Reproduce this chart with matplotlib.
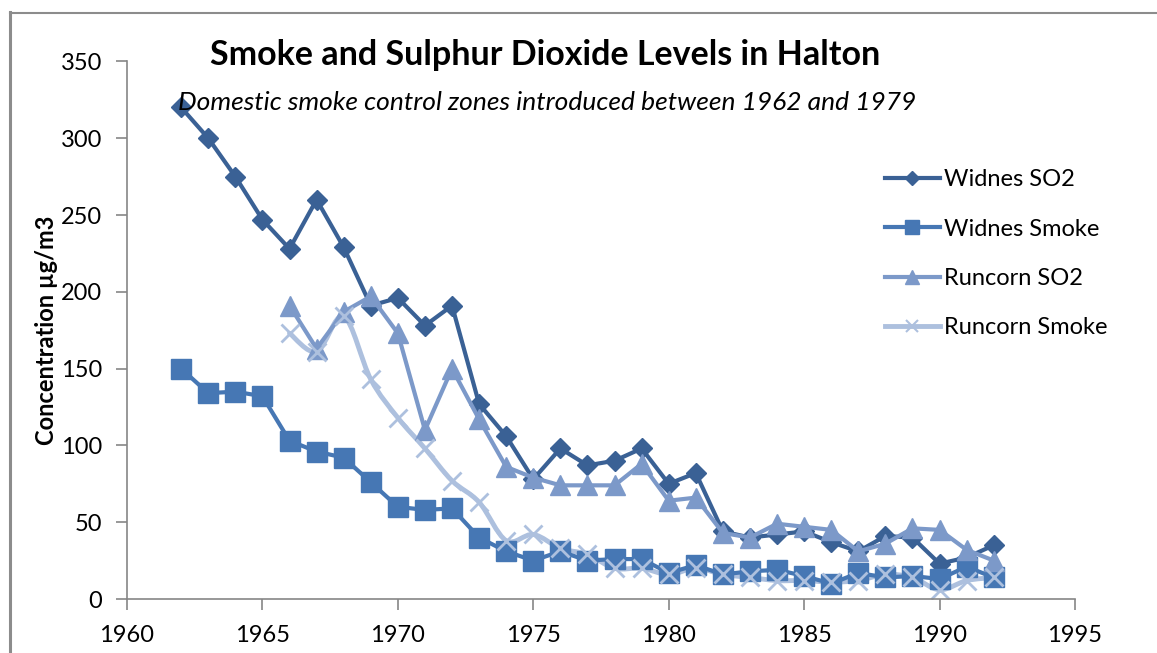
import numpy as np
import matplotlib
matplotlib.use('Agg')
import matplotlib.pyplot as plt
from matplotlib.path import Path
from matplotlib.patches import PathPatch
from matplotlib.lines import Line2D

plt.rcParams['font.family'] = ['Lato', 'DejaVu Sans']

# data
widnes_years = list(range(1962, 1993))
widnes_so2 = [320, 300, 275, 247, 228, 260, 229, 191, 196, 178, 191, 127, 106, 78,
              98, 87, 90, 98, 75, 82, 44, 40, 42, 44, 37, 31, 41, 40, 23, 27, 35]
widnes_smoke = [150, 134, 135, 132, 103, 96, 92, 76, 60, 58, 59, 40, 31, 25,
                31, 25, 26, 26, 17, 22, 16, 18, 19, 15, 10, 17, 14, 15, 13, 21, 14]

runcorn_years = list(range(1966, 1993))
runcorn_so2 = [191, 163, 187, 197, 173, 110, 150, 117, 86, 79, 74, 74, 74, 88,
               64, 66, 43, 40, 49, 47, 45, 31, 36, 46, 45, 32, 25]
runcorn_smoke = [173, 161, 184, 143, 118, 98, 77, 63, 38, 42, 33, 29, 20, 20,
                 16, 20, 16, 14, 12, 12, 11, 12, 16, 14, 6, 12, 14]

labels = ['Widnes SO2', 'Widnes Smoke', 'Runcorn SO2', 'Runcorn Smoke']
colors = ['#3a6195', '#4677b4', '#7c99c9', '#adc0de']

x_ticks = [1960, 1965, 1970, 1975, 1980, 1985, 1990, 1995]
y_ticks = [0, 50, 100, 150, 200, 250, 300, 350]


def smooth_path(xs, ys):
    # bezier segments through every point, like the spreadsheet "smoothed line"
    p = np.column_stack([xs, ys]).astype(float)
    pts = np.vstack([p[0], p, p[-1]])
    verts = [p[0]]
    codes = [Path.MOVETO]
    for i in range(1, len(pts) - 2):
        c1 = pts[i] + (pts[i + 1] - pts[i - 1]) / 6.0
        c2 = pts[i + 1] - (pts[i + 2] - pts[i]) / 6.0
        verts += [c1, c2, pts[i + 1]]
        codes += [Path.CURVE4] * 3
    return Path(verts, codes)


fig = plt.figure(figsize=(11.57, 6.53), dpi=100)
ax = fig.add_axes([127 / 1157, 1 - 599 / 653, (1075 - 127) / 1157, (599 - 61.4) / 653])

ax.plot(widnes_years, widnes_so2, color=colors[0], lw=3, marker='D', ms=10,
        label=labels[0])
ax.plot(widnes_years, widnes_smoke, color=colors[1], lw=3, marker='s', ms=14,
        label=labels[1])
ax.plot(runcorn_years, runcorn_so2, color=colors[2], lw=3, marker='^', ms=15,
        label=labels[2])
ax.add_patch(PathPatch(smooth_path(runcorn_years, runcorn_smoke), fill=False,
                       edgecolor=colors[3], lw=3.5, capstyle='round'))
ax.plot(runcorn_years, runcorn_smoke, ls='none', marker='x', ms=13, mew=2,
        color=colors[3])

ax.set_xlim(1960, 1995)
ax.set_ylim(0, 350)
ax.set_xticks(x_ticks)
ax.set_yticks(y_ticks)
ax.tick_params(labelsize=17, colors='#868686', labelcolor='black', length=8,
               width=1.2)
ax.tick_params(axis='y', pad=10)
ax.tick_params(axis='x', pad=11)
for side in ['top', 'right']:
    ax.spines[side].set_visible(False)
for side in ['left', 'bottom']:
    ax.spines[side].set_color('#868686')
    ax.spines[side].set_linewidth(1.2)
ax.set_ylabel('Concentration µg/m3', fontsize=17, fontweight='bold', labelpad=2)

fig.text(545 / 1157, 1 - 55 / 653, 'Smoke and Sulphur Dioxide Levels in Halton',
         ha='center', va='center', fontsize=24.5, fontweight='bold')
fig.text(547 / 1157, 1 - 103 / 653,
         'Domestic smoke control zones introduced between 1962 and 1979',
         ha='center', va='center', fontsize=19, style='italic')

handles = ax.get_lines()[:3] + [Line2D([], [], color=colors[3], lw=3.5, marker='x',
                                       ms=13, mew=1.5)]
ax.legend(handles, labels, loc='upper left', bbox_to_anchor=(864 / 1157, 1 - 148 / 653),
          bbox_transform=fig.transFigure, frameon=False, fontsize=17,
          handlelength=2.3, handletextpad=0.2, labelspacing=1.2, markerscale=0.7)

# outer chart frame
fig.add_artist(Line2D([10 / 1157, 10 / 1157], [0, 1 - 12 / 653], color='#8c8c8c',
                      lw=2.2, transform=fig.transFigure))
fig.add_artist(Line2D([10 / 1157, 1], [1 - 12.5 / 653, 1 - 12.5 / 653],
                      color='#8c8c8c', lw=1.5, transform=fig.transFigure))

plt.savefig('out.png', dpi=100)
